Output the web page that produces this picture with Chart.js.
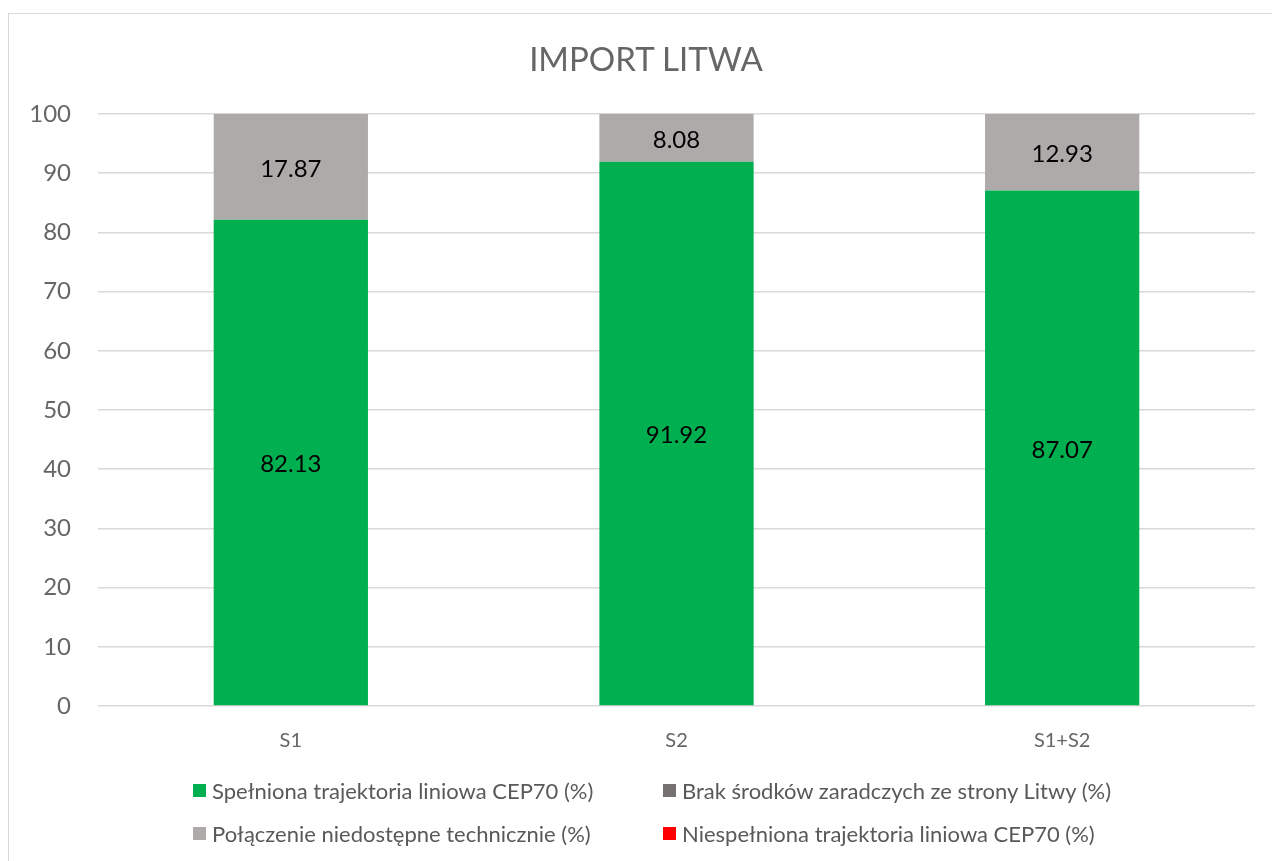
<!DOCTYPE html>
<html>
<head>
<meta charset="utf-8">
<script src="https://cdn.jsdelivr.net/npm/chart.js@4"></script>
<style>
    html, body { margin: 0; padding: 0; background: #fff; overflow: hidden; }
    body { width: 1272px; height: 861px; position: relative; font-family: Lato, sans-serif; }
    #frame {
        position: absolute; left: 8px; top: 13px;
        width: 1276px; height: 860px;
        border: 1px solid #d9d9d9; box-sizing: border-box;
    }
    #wrap { position: absolute; left: 0; top: 0; width: 1274px; height: 847px; }
    #title {
        position: absolute; left: 0; top: 24px; width: 1274px;
        text-align: center; font-size: 33px; line-height: 40px; color: #666;
    }
    #legend {
        position: absolute; left: 184px; top: 763px;
        display: grid; grid-template-columns: 470px 470px; row-gap: 17px;
        font-size: 22px; color: #595959;
    }
    .item { display: flex; align-items: center; height: 26px; white-space: nowrap; }
    .box { width: 13px; height: 13px; margin-right: 6px; }
</style>
</head>
<body>
<div id="frame">
    <div id="wrap"><canvas id="chart"></canvas></div>
    <div id="title">IMPORT LITWA</div>
    <div id="legend"></div>
</div>
<script>
// Dane wykresu
const categories = ['S1', 'S2', 'S1+S2'];
const seriesNames = [
    'Spełniona trajektoria liniowa CEP70 (%)',
    'Brak środków zaradczych ze strony Litwy (%)',
    'Połączenie niedostępne technicznie (%)',
    'Niespełniona trajektoria liniowa CEP70 (%)'
];
const spelniona = [82.13, 91.92, 87.07];
const brakSrodkow = [0, 0, 0];
const niedostepne = [17.87, 8.08, 12.93];
const niespelniona = [0, 0, 0];
const seriesColors = ['#00b050', '#767171', '#aeaaaa', '#ff0000'];
const yTicks = [0, 10, 20, 30, 40, 50, 60, 70, 80, 90, 100];

const FONT = 'Lato, sans-serif';

// Etykiety wartości w środku słupków
const barLabels = {
    id: 'barLabels',
    afterDatasetsDraw(chart) {
        const ctx = chart.ctx;
        ctx.save();
        ctx.font = '24px ' + FONT;
        ctx.fillStyle = '#000';
        ctx.textAlign = 'center';
        ctx.textBaseline = 'middle';
        chart.data.datasets.forEach((ds, i) => {
            const meta = chart.getDatasetMeta(i);
            meta.data.forEach((bar, j) => {
                const v = ds.data[j];
                if (!v) return;
                const p = bar.getProps(['x', 'y', 'base'], true);
                ctx.fillText(v.toFixed(2), p.x, (p.y + p.base) / 2 + 2);
            });
        });
        ctx.restore();
    }
};

const allData = [spelniona, brakSrodkow, niedostepne, niespelniona];
const datasets = seriesNames.map((name, i) => ({
    label: name,
    data: allData[i],
    backgroundColor: seriesColors[i],
    borderWidth: 0,
    barPercentage: 1,
    categoryPercentage: 0.4
}));

const chart = new Chart(document.getElementById('chart'), {
    type: 'bar',
    data: { labels: categories, datasets },
    options: {
        responsive: true,
        maintainAspectRatio: false,
        animation: false,
        layout: { padding: { left: 0, right: 28, top: 100, bottom: 95 } },
        plugins: {
            legend: { display: false },
            tooltip: { enabled: false }
        },
        scales: {
            x: {
                stacked: true,
                grid: { display: false, drawTicks: false },
                border: { display: false },
                ticks: { color: '#666', font: { family: FONT, size: 20 }, padding: 23 },
                afterFit(scale) { scale.height = 60; }
            },
            y: {
                stacked: true,
                min: 0,
                max: 100,
                afterBuildTicks(scale) { scale.ticks = yTicks.map(v => ({ value: v })); },
                grid: { color: '#d9d9d9', lineWidth: 1.5, drawTicks: false },
                border: { display: false },
                ticks: { color: '#666', font: { family: FONT, size: 24 }, padding: 27 },
                afterFit(scale) { scale.width = 89; }
            }
        }
    },
    plugins: [barLabels]
});

// Legenda w dwóch kolumnach
const legend = document.getElementById('legend');
seriesNames.forEach((name, i) => {
    const item = document.createElement('div');
    item.className = 'item';
    item.innerHTML = `<span class="box" style="background:${seriesColors[i]}"></span><span>${name}</span>`;
    legend.appendChild(item);
});
</script>
</body>
</html>
